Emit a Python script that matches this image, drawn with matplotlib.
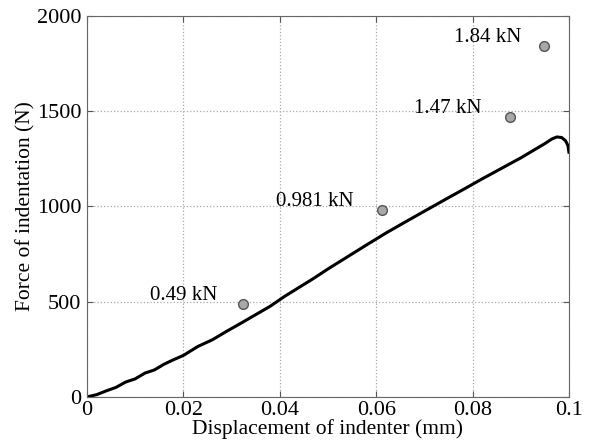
import numpy as np
import matplotlib.pyplot as plt

plt.rcParams['font.family'] = ['Liberation Serif', 'DejaVu Serif']

# measured force-displacement curve
disp = [0, 0.002, 0.004, 0.006, 0.008, 0.010, 0.012, 0.014, 0.016, 0.018,
        0.020, 0.023, 0.026, 0.029, 0.032, 0.035, 0.038, 0.041, 0.044, 0.047,
        0.050, 0.054, 0.058, 0.062, 0.066, 0.070, 0.074, 0.078, 0.082, 0.086,
        0.090, 0.093, 0.095, 0.0965, 0.0975, 0.0985, 0.0993, 0.0998, 0.1]
force = [0, 12, 32, 50, 78, 95, 125, 142, 172, 196,
         218, 265, 300, 345, 388, 432, 476, 528, 575, 622,
         672, 735, 798, 860, 918, 975, 1032, 1088, 1145, 1200,
         1255, 1300, 1330, 1355, 1365, 1362, 1345, 1320, 1285]

# static load points
pt_x = [0.0324, 0.0613, 0.0878, 0.0948]
pt_y = [490, 981, 1470, 1840]
pt_labels = ['0.49 kN', '0.981 kN', '1.47 kN', '1.84 kN']
lab_x = [0.0270, 0.0554, 0.0819, 0.0902]
lab_y = [535, 1025, 1517, 1885]

fig = plt.figure(figsize=(5.92, 4.45), dpi=100)
ax = fig.add_axes([0.147, 0.108, 0.814, 0.856])

ax.plot(disp, force, color='black', lw=2.2)
ax.plot(pt_x, pt_y, 'o', ms=7, mfc='#a8a8a8', mec='#555555', mew=1.0)
for x, y, s in zip(lab_x, lab_y, pt_labels):
    ax.text(x, y, s, ha='right', va='center', fontsize=15)

ax.set_xlim(0, 0.1)
ax.set_ylim(0, 2000)
ax.set_xticks([0, 0.02, 0.04, 0.06, 0.08, 0.1])
ax.set_xticklabels(['0', '0.02', '0.04', '0.06', '0.08', '0.1'])
ax.set_yticks([0, 500, 1000, 1500, 2000])
ax.grid(True, ls=':', color='#aaaaaa', lw=0.9)
ax.tick_params(direction='in', top=True, right=True, labelsize=16, length=4,
               color='#555555')
ax.tick_params(axis='x', pad=3)
ax.tick_params(axis='y', pad=4)
for sp in ax.spines.values():
    sp.set_color('#666666')
ax.set_xlabel('Displacement of indenter (mm)', fontsize=15.5, labelpad=-1)
ax.set_ylabel('Force of indentation (N)', fontsize=15.5, labelpad=1)

fig.savefig('out.png', dpi=100)
